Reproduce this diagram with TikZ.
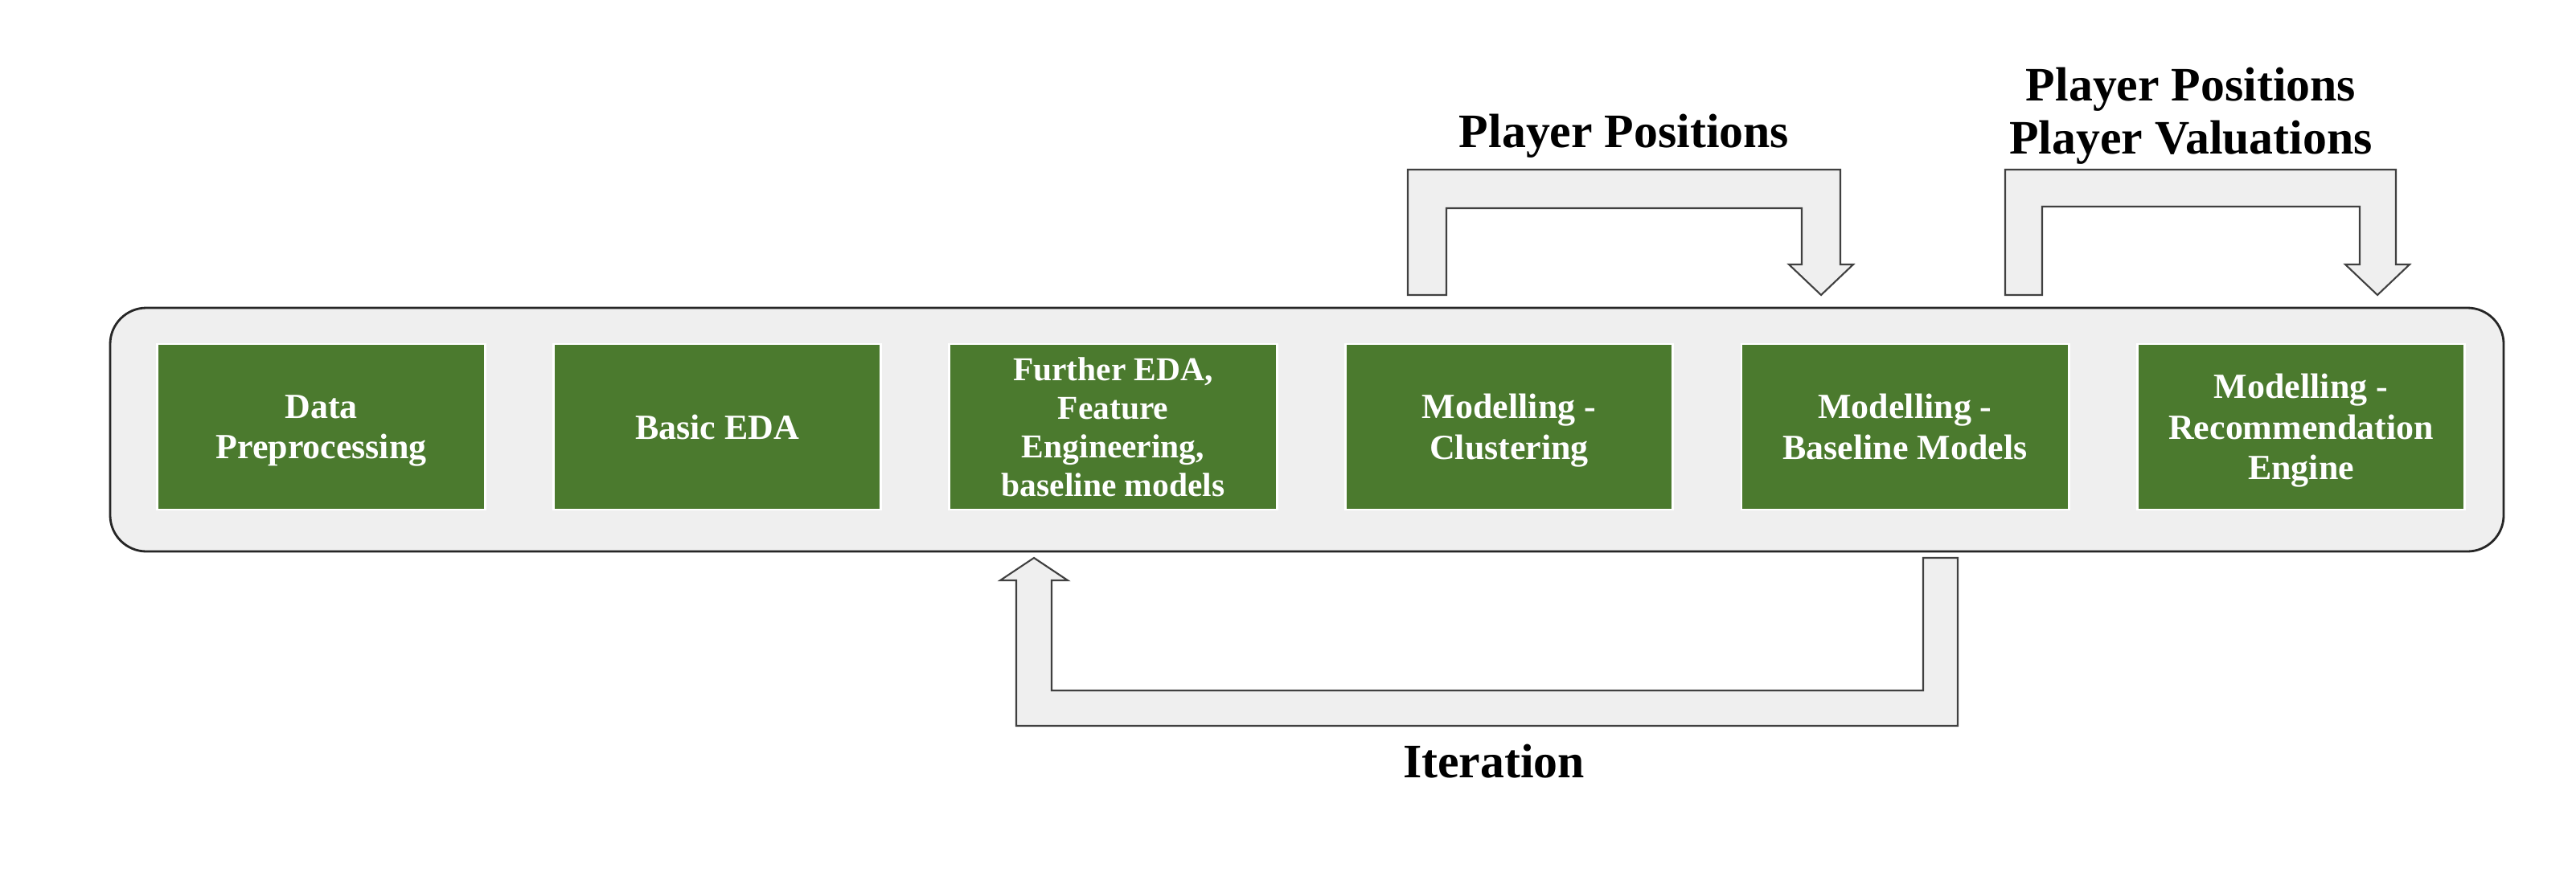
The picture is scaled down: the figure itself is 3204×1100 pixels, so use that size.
\documentclass[tikz,border=0pt]{standalone}
\usepackage{fontspec}
\setmainfont{Liberation Serif}
\usepackage{xcolor}
\usepackage{tikz}

\definecolor{stagegreen}{HTML}{4B7A2E}
\definecolor{panelgray}{HTML}{EFEFEF}

\begin{document}
\begin{tikzpicture}[x=0.01cm, y=-0.01cm,
    stage/.style={rectangle, fill=stagegreen, draw=white, line width=0.8pt,
        text=white, minimum width=4.07cm, minimum height=2.06cm, align=center,
        inner sep=0pt, text depth=0pt, font=\fontsize{12.5}{14.4}\selectfont\bfseries},
    blockarrow/.style={fill=panelgray, draw=black!75, line width=0.6pt},
    flowlabel/.style={inner sep=0pt, align=center,
        font=\fontsize{17}{18.8}\selectfont\bfseries}]

    \useasboundingbox (0,0) rectangle (3204,1100);

    % Panel holding the stages
    \draw[fill=panelgray, draw=black!85, line width=0.8pt, rounded corners=0.45cm]
        (137,383) rectangle (3114,686);

    % The six stages
    \node[stage] (dataprep) at (399.5,531) {Data\\Preprocessing};
    \node[stage] (basiceda) at (892,531) {Basic EDA};
    \node[stage, font=\fontsize{11.8}{13.6}\selectfont\bfseries] (furthereda) at (1384.5,531)
        {Further EDA,\\Feature\\Engineering,\\baseline models};
    \node[stage] (clustering) at (1877,531) {Modelling -\\Clustering};
    \node[stage] (baseline) at (2369.5,531) {Modelling -\\Baseline Models};
    \node[stage] (recengine) at (2862,531) {Modelling -\\Recommendation\\Engine};

    % Block arrows over the panel
    \draw[blockarrow] (1751,367) -- (1751,211) -- (2289,211) -- (2289,329) -- (2305,329)
        -- (2265,367) -- (2225,329) -- (2241,329) -- (2241,259) -- (1799,259) -- (1799,367) -- cycle;
    \draw[blockarrow] (2494,367) -- (2494,211) -- (2980,211) -- (2980,329) -- (2997,329)
        -- (2957,367) -- (2917,329) -- (2935,329) -- (2935,257) -- (2540,257) -- (2540,367) -- cycle;

    % Iteration arrow under the panel
    \draw[blockarrow] (2435,694) -- (2435,903) -- (1264,903) -- (1264,722) -- (1244,722)
        -- (1286,694) -- (1328,722) -- (1308,722) -- (1308,859) -- (2392,859) -- (2392,694) -- cycle;

    % Labels
    \node[flowlabel, anchor=base] (poslabel) at (2020,183) {Player Positions};
    \node[flowlabel, anchor=south] (vallabel) at (2725,205) {Player Positions\\Player Valuations};
    \node[flowlabel, anchor=base] (iterlabel) at (1858,967) {Iteration};

\end{tikzpicture}
\end{document}
